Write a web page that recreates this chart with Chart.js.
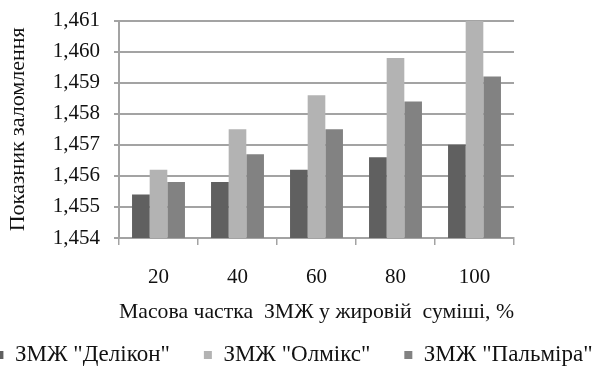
<!DOCTYPE html>
<html>
<head>
<meta charset="utf-8">
<script src="https://cdn.jsdelivr.net/npm/chart.js@4/dist/chart.umd.min.js"></script>
<style>
  html, body { margin: 0; padding: 0; background: #fff; overflow: hidden; width: 595px; height: 372px; }
  #wrap { position: absolute; left: -56px; top: 0; width: 700px; height: 377px; }
</style>
</head>
<body>
<div id="wrap"><canvas id="chart" width="700" height="377"></canvas></div>
<script>
// Масова частка ЗМЖ у жировій суміші, %
const categories = ['20', '40', '60', '80', '100'];

// Показник заломлення для кожного виду ЗМЖ
const delikon = [1.4554, 1.4558, 1.4562, 1.4566, 1.4570];
const olmiks  = [1.4562, 1.4575, 1.4586, 1.4598, 1.4610];
const palmira = [1.4558, 1.4567, 1.4575, 1.4584, 1.4592];

const seriesNames = ['ЗМЖ "Делікон"', 'ЗМЖ "Олмікс"', 'ЗМЖ "Пальміра"'];

const yMin = 1.454;
const yMax = 1.461;
const yStep = 0.001;

const gridGrey = '#a3a3a3';

Chart.defaults.font.family = '"Liberation Serif", "Times New Roman", serif';
Chart.defaults.font.size = 21;
Chart.defaults.color = '#111';

new Chart(document.getElementById('chart'), {
  type: 'bar',
  data: {
    labels: categories,
    datasets: [
      { label: seriesNames[0], data: delikon, backgroundColor: '#606060' },
      { label: seriesNames[1], data: olmiks,  backgroundColor: '#b3b3b3' },
      { label: seriesNames[2], data: palmira, backgroundColor: '#828282' }
    ]
  },
  options: {
    responsive: false,
    animation: false,
    datasets: { bar: { categoryPercentage: 0.67, barPercentage: 1.0, borderWidth: 0 } },
    layout: { padding: { top: 20.7, right: 0, bottom: 0.5, left: 0 } },
    plugins: {
      tooltip: { enabled: false },
      legend: {
        position: 'bottom',
        labels: { boxWidth: 8, boxHeight: 8, padding: 34, color: '#111', font: { size: 23 } }
      }
    },
    scales: {
      x: {
        grid: { display: true, drawOnChartArea: false, drawTicks: true, tickLength: 7, color: gridGrey, lineWidth: 1.5 },
        border: { display: true, color: gridGrey, width: 2 },
        ticks: { padding: 20, color: '#111' },
        title: { display: true, text: 'Масова частка  ЗМЖ у жировій  суміші, %', color: '#111', font: { size: 22 }, padding: { top: 0, bottom: -15.7 } },
        afterFit(scale) { scale.height = 71.5; }
      },
      y: {
        min: yMin,
        max: yMax,
        grid: { color: gridGrey, lineWidth: 2, drawTicks: true, tickLength: 5 },
        border: { display: true, color: gridGrey, width: 2 },
        ticks: {
          stepSize: yStep,
          autoSkip: false,
          padding: 14,
          color: '#111',
          font: { size: 21, lineHeight: 0.6 },
          callback: (v) => v.toFixed(3).replace('.', ',')
        },
        title: { display: true, text: 'Показник заломлення', color: '#111', font: { size: 22 }, padding: { top: 60.8, bottom: 0 } },
        afterFit(scale) { scale.width = 175; }
      },
      // empty margin on the right of the plot
      yRight: {
        position: 'right',
        display: true,
        grid: { display: false },
        border: { display: false },
        ticks: { display: false },
        afterFit(scale) { scale.width = 130; }
      }
    }
  }
});
</script>
</body>
</html>
